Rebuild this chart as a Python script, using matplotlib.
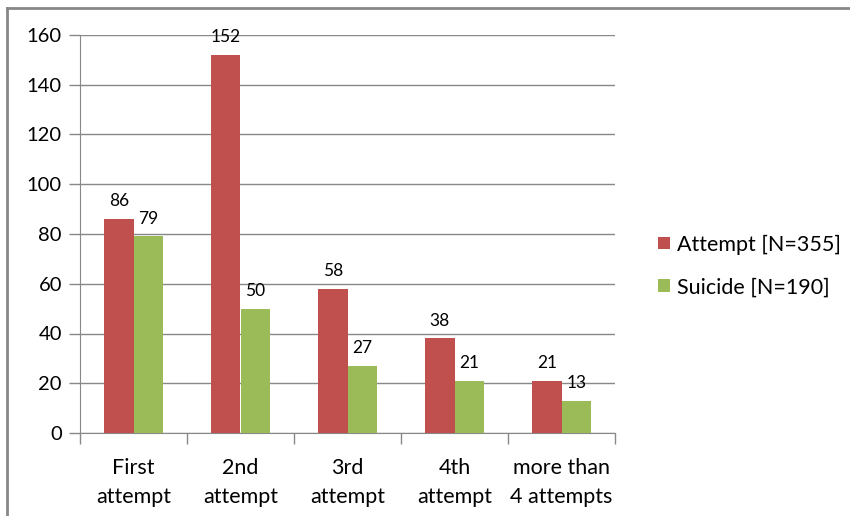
import numpy as np
import matplotlib.pyplot as plt
from matplotlib.lines import Line2D

categories = ["First\nattempt", "2nd\nattempt", "3rd\nattempt", "4th\nattempt", "more than\n4 attempts"]
attempt = [86, 152, 58, 38, 21]
suicide = [79, 50, 27, 21, 13]
series_names = ["Attempt [N=355]", "Suicide [N=190]"]
yticks = [0, 20, 40, 60, 80, 100, 120, 140, 160]

plt.rcParams['font.family'] = ['Lato', 'DejaVu Sans']

fig = plt.figure(figsize=(8.5, 5.16), dpi=100)
ax = fig.add_axes([80 / 850, 83 / 516, 535 / 850, 398 / 516])

# outer chart border (top and left visible)
fig.add_artist(Line2D([7 / 850, 7 / 850], [0, 1 - 7.5 / 516], transform=fig.transFigure,
                      color="#888888", lw=2))
fig.add_artist(Line2D([7 / 850, 1], [1 - 7.5 / 516, 1 - 7.5 / 516], transform=fig.transFigure,
                      color="#888888", lw=2))

x = np.arange(len(categories))
w = 0.275
b1 = ax.bar(x - w / 2, attempt, w, color="#c0504d", label=series_names[0], zorder=3)
b2 = ax.bar(x + w / 2, suicide, w, color="#9bbb59", label=series_names[1], zorder=3)

for bars, vals in ((b1, attempt), (b2, suicide)):
    for bar, v in zip(bars, vals):
        ax.text(bar.get_x() + bar.get_width() / 2, v + 4, str(v), ha="center", va="bottom",
                fontsize=12.5, color="black", zorder=4)

ax.set_xlim(-0.5, len(categories) - 0.5)
ax.set_ylim(0, 160)
ax.set_yticks(yticks)
ax.tick_params(axis="y", labelsize=14.5, length=8, color="#888888", width=1, pad=5)
ax.yaxis.grid(True, color="#888888", lw=1, zorder=0)

ax.set_xticks(x)
ax.set_xticklabels(categories, fontsize=15.5, linespacing=1.55)
ax.tick_params(axis="x", length=0, pad=18)
ax.set_xticks(np.arange(len(categories) + 1) - 0.5, minor=True)
ax.tick_params(axis="x", which="minor", length=8, color="#888888", width=1)

for s in ("top", "right"):
    ax.spines[s].set_visible(False)
for s in ("left", "bottom"):
    ax.spines[s].set_color("#888888")

ax.legend(loc="center left", bbox_to_anchor=(1.045, 0.42), frameon=False, fontsize=15.5,
          handlelength=0.55, handleheight=0.55, handletextpad=0.3, labelspacing=1.05)

fig.savefig("out.png", dpi=100)
